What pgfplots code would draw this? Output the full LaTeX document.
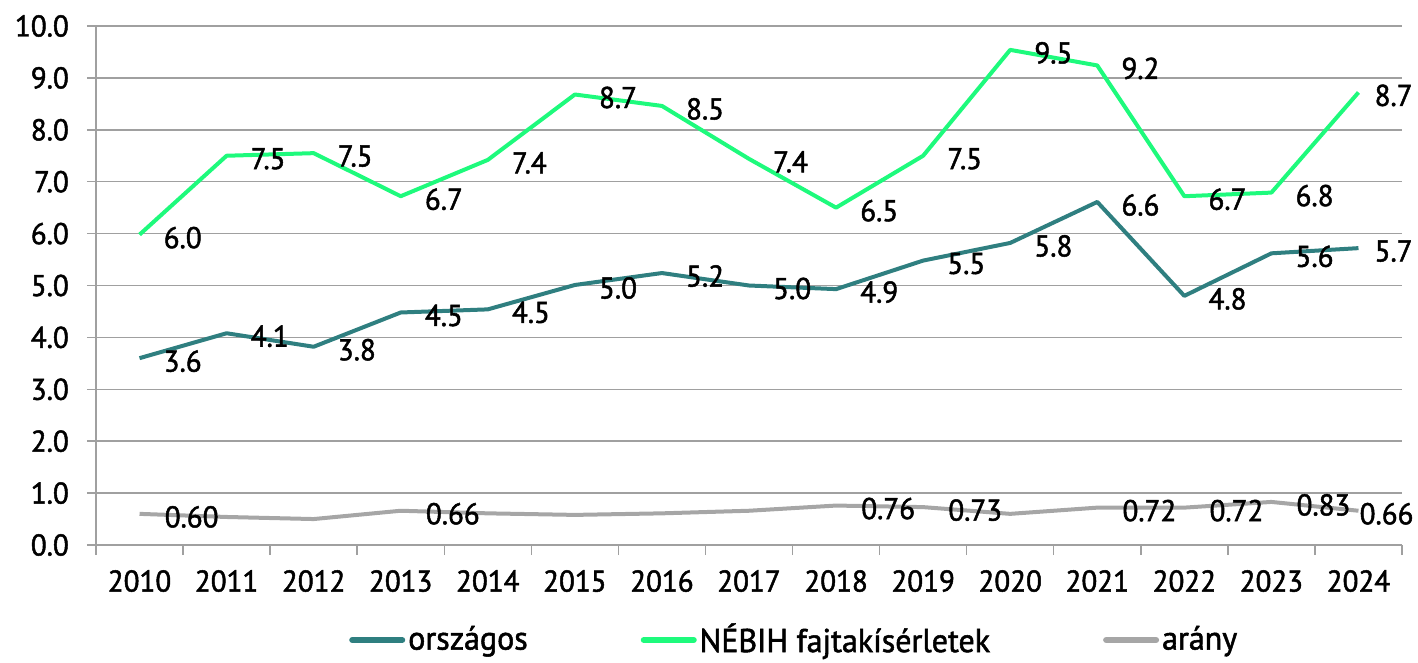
\documentclass[border=0pt]{standalone}
\usepackage{pgfplots}
\pgfplotsset{compat=1.18}
\usepackage{fontspec}
\setmainfont{PT Sans}[FakeBold=1.6, FakeStretch=0.97]
\definecolor{tealc}{HTML}{2F7F80}
\definecolor{greenc}{HTML}{1EFA7C}
\definecolor{grayc}{HTML}{A6A6A6}
\definecolor{gridc}{HTML}{A0A0A0}
\pgfplotsset{
  lbl/.style={draw=none, mark=none, forget plot, nodes near coords,
    every node near coord/.append style={font=\fontsize{30}{36}\selectfont, text=black, anchor=west, xshift=#1, yshift=-3pt}},
}
\begin{document}
\fontsize{30}{36}\selectfont
\begin{tikzpicture}
\begin{axis}[
  name=ax,
  at={(0,0)}, anchor=south west,
  scale only axis,
  width=1306pt, height=519pt,
  xmin=-0.5, xmax=14.5, ymin=0, ymax=10,
  axis x line*=bottom, axis y line*=left,
  axis line style={gridc, line width=1.5pt, -},
  xtick={0,...,14},
  xticklabels={2010,2011,2012,2013,2014,2015,2016,2017,2018,2019,2020,2021,2022,2023,2024},
  minor xtick={-0.5,0.5,...,14.5},
  major x tick style={draw=none},
  minor x tick style={gridc, line width=1.5pt},
  minor tick length=10pt,
  ytick={0,1,...,10},
  y tick style={gridc, line width=1.5pt},
  major tick length=9pt,
  tick align=outside,
  ymajorgrids,
  grid style={gridc, line width=1.5pt},
  /pgf/number format/assume math mode=true,
  yticklabel={\pgfmathprintnumber[fixed,fixed zerofill,precision=1]{\tick}},
  yticklabel style={font=\fontsize{30}{36}\selectfont, xshift=-8pt},
  xticklabel style={font=\fontsize{30}{36}\selectfont, yshift=-6pt},
  point meta=explicit symbolic,
  legend columns=3,
  legend style={at={(0.535,-0.183)}, anchor=center, draw=none, fill=none,
    font=\fontsize{33}{40}\selectfont, inner sep=0pt,
    /tikz/every even column/.append style={column sep=110pt},
    nodes={inner sep=3pt}},
  legend image code/.code={\draw[#1, line width=6pt, line cap=round] (0pt,0pt) -- (50pt,0pt);},
  clip=false,
]
\addplot[tealc, line width=4pt, line join=round, mark=none] coordinates {
 (0,3.60) (1,4.08) (2,3.82) (3,4.48) (4,4.54) (5,5.01) (6,5.24) (7,5.00)
 (8,4.93) (9,5.48) (10,5.82) (11,6.61) (12,4.80) (13,5.62) (14,5.72)
};
\addlegendentry{országos}
\addplot[greenc, line width=4pt, line join=round, mark=none] coordinates {
 (0,5.98) (1,7.50) (2,7.55) (3,6.72) (4,7.42) (5,8.68) (6,8.46) (7,7.44)
 (8,6.50) (9,7.50) (10,9.54) (11,9.24) (12,6.72) (13,6.79) (14,8.72)
};
\addlegendentry{NÉBIH fajtakísérletek}
\addplot[grayc, line width=4pt, line join=round, mark=none] coordinates {
 (0,0.60) (1,0.54) (2,0.50) (3,0.66) (4,0.61) (5,0.58) (6,0.61) (7,0.66)
 (8,0.76) (9,0.73) (10,0.60) (11,0.72) (12,0.72) (13,0.83) (14,0.66)
};
\addlegendentry{arány}
% data labels
\addplot[lbl=14pt] coordinates {
 (0,3.60) [3.6] (1,4.08) [4.1] (2,3.82) [3.8] (3,4.48) [4.5] (4,4.54) [4.5]
 (5,5.01) [5.0] (6,5.24) [5.2] (7,5.00) [5.0] (8,4.93) [4.9] (9,5.48) [5.5]
 (10,5.82) [5.8] (11,6.61) [6.6] (12,4.80) [4.8] (13,5.62) [5.6]
};
\addplot[lbl=6pt] coordinates {(14,5.72) [5.7]};
\addplot[lbl=14pt] coordinates {
 (0,5.98) [6.0] (1,7.50) [7.5] (2,7.55) [7.5] (3,6.72) [6.7] (4,7.42) [7.4]
 (5,8.68) [8.7] (6,8.46) [8.5] (7,7.44) [7.4] (8,6.50) [6.5] (9,7.50) [7.5]
 (10,9.54) [9.5] (11,9.24) [9.2] (12,6.72) [6.7] (13,6.79) [6.8]
};
\addplot[lbl=6pt] coordinates {(14,8.72) [8.7]};
\addplot[lbl=15pt] coordinates {
 (0,0.60) [0.60] (3,0.66) [0.66] (8,0.76) [0.76] (9,0.73) [0.73]
 (11,0.72) [0.72] (12,0.72) [0.72] (13,0.83) [0.83]
};
\addplot[lbl=-9pt] coordinates {(14,0.66) [0.66]};
\end{axis}
\pgfresetboundingbox
\path[use as bounding box] ([shift={(-96pt,-117pt)}]ax.south west) rectangle ([shift={(1322pt,545pt)}]ax.south west);
\end{tikzpicture}
\end{document}
